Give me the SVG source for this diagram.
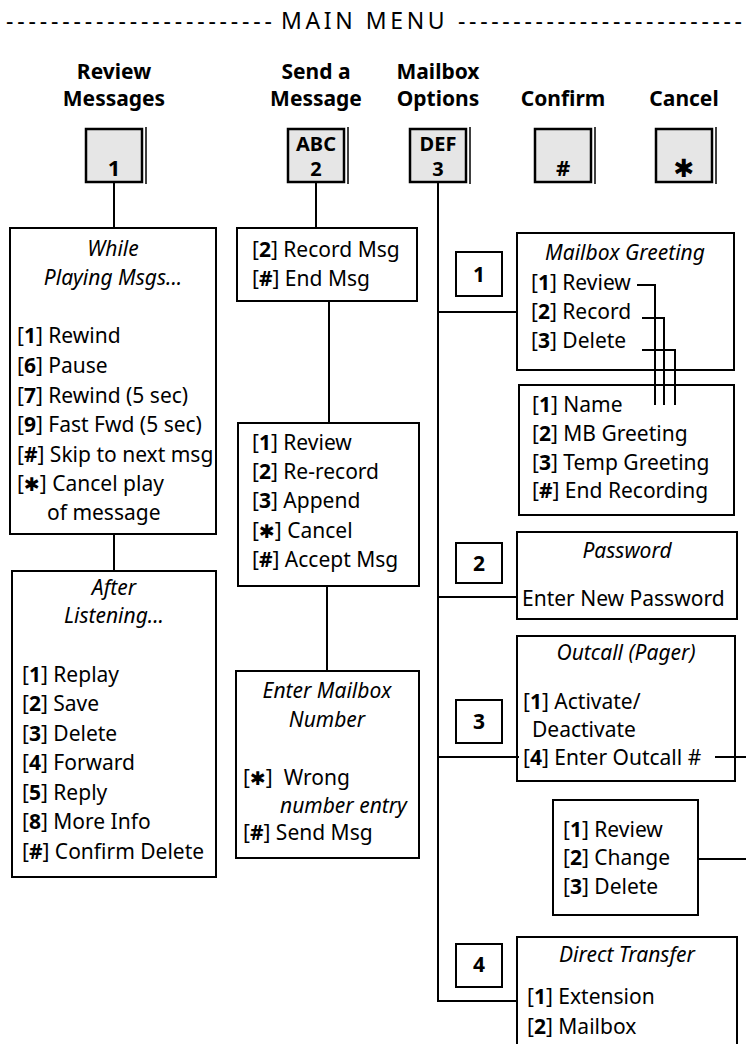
<svg xmlns="http://www.w3.org/2000/svg" width="746" height="1044" viewBox="0 0 746 1044">
<style>
text{font-family:"Noto Sans","Open Sans",sans-serif;font-size:21px;fill:#000}
.b{font-weight:bold}
.i{font-style:italic}
.c{text-anchor:middle}
.ast{font-family:"DejaVu Sans",sans-serif;font-size:19px;font-weight:bold}
.kt{font-size:20px}
.kn{font-size:22px}
.hd{font-size:23px}
.box{fill:#fff;stroke:#000;stroke-width:2}
.key{fill:#e6e6e6;stroke:#000;stroke-width:2.5}
.sh{stroke:#000;stroke-width:1.5}
.ln{stroke:#000;stroke-width:2;fill:none}
</style>
<rect width="746" height="1044" fill="#fff"/>

<g id="header">
<text class="hd" x="6" y="29" textLength="266" lengthAdjust="spacing">------------------------</text>
<text class="hd" x="281" y="29" letter-spacing="3.6">MAIN MENU</text>
<text class="hd" x="458" y="29" textLength="284" lengthAdjust="spacing">--------------------------</text>
</g>

<g id="labels">
<text class="c b" x="114" y="79">Review</text>
<text class="c b" x="114" y="106">Messages</text>
<text class="c b" x="316" y="79">Send a</text>
<text class="c b" x="316" y="106">Message</text>
<text class="c b" x="438" y="79">Mailbox</text>
<text class="c b" x="438" y="106">Options</text>
<text class="c b" x="563" y="106">Confirm</text>
<text class="c b" x="684" y="106">Cancel</text>
</g>

<g id="key1">
<rect class="key" x="86" y="129" width="56" height="53"/>
<line class="sh" x1="146" y1="127" x2="146" y2="184"/>
<text class="c b kn" x="114" y="176">1</text>
</g>
<g id="key2">
<rect class="key" x="288" y="129" width="56" height="53"/>
<line class="sh" x1="348" y1="127" x2="348" y2="184"/>
<text class="c b kt" x="316" y="151">ABC</text>
<text class="c b kt" x="316" y="176">2</text>
</g>
<g id="key3">
<rect class="key" x="410" y="129" width="56" height="53"/>
<line class="sh" x1="470" y1="127" x2="470" y2="184"/>
<text class="c b kt" x="438" y="151">DEF</text>
<text class="c b kt" x="438" y="176">3</text>
</g>
<g id="keyHash">
<rect class="key" x="535" y="129" width="56" height="53"/>
<line class="sh" x1="595" y1="127" x2="595" y2="184"/>
<text class="c b kn" x="563" y="176">#</text>
</g>
<g id="keyStar">
<rect class="key" x="656" y="129" width="56" height="53"/>
<line class="sh" x1="716" y1="127" x2="716" y2="184"/>
<text class="c ast" x="684" y="177" style="font-size:25px">✱</text>
</g>

<g id="whilePlaying">
<rect class="box" x="10" y="228" width="206" height="306"/>
<text class="c i" x="113" y="256">While</text>
<text class="c i" x="113" y="285">Playing Msgs...</text>
<text x="17" y="343">[<tspan class="b">1</tspan>] Rewind</text>
<text x="17" y="373">[<tspan class="b">6</tspan>] Pause</text>
<text x="17" y="403">[<tspan class="b">7</tspan>] Rewind (5 sec)</text>
<text x="17" y="432">[<tspan class="b">9</tspan>] Fast Fwd (5 sec)</text>
<text x="17" y="462">[<tspan class="b">#</tspan>] Skip to next msg</text>
<text x="17" y="491">[<tspan class="ast">✱</tspan>] Cancel play</text>
<text x="47" y="520">of message</text>
</g>

<g id="afterListening">
<rect class="box" x="12" y="571" width="204" height="306"/>
<text class="c i" x="114" y="595">After</text>
<text class="c i" x="114" y="623">Listening...</text>
<text x="22" y="682">[<tspan class="b">1</tspan>] Replay</text>
<text x="22" y="711">[<tspan class="b">2</tspan>] Save</text>
<text x="22" y="741">[<tspan class="b">3</tspan>] Delete</text>
<text x="22" y="770">[<tspan class="b">4</tspan>] Forward</text>
<text x="22" y="800">[<tspan class="b">5</tspan>] Reply</text>
<text x="22" y="829">[<tspan class="b">8</tspan>] More Info</text>
<text x="22" y="859">[<tspan class="b">#</tspan>] Confirm Delete</text>
</g>

<g id="recordMsg">
<rect class="box" x="237" y="228" width="180" height="73"/>
<text x="252" y="257">[<tspan class="b">2</tspan>] Record Msg</text>
<text x="252" y="286">[<tspan class="b">#</tspan>] End Msg</text>
</g>

<g id="reviewMsg">
<rect class="box" x="238" y="423" width="181" height="163"/>
<text x="252" y="450">[<tspan class="b">1</tspan>] Review</text>
<text x="252" y="479">[<tspan class="b">2</tspan>] Re-record</text>
<text x="252" y="508">[<tspan class="b">3</tspan>] Append</text>
<text x="252" y="538">[<tspan class="ast">✱</tspan>] Cancel</text>
<text x="252" y="567">[<tspan class="b">#</tspan>] Accept Msg</text>
</g>

<g id="enterMailbox">
<rect class="box" x="236" y="671" width="183" height="187"/>
<text class="c i" x="327" y="698">Enter Mailbox</text>
<text class="c i" x="327" y="727">Number</text>
<text x="243" y="785">[<tspan class="ast">✱</tspan>]&#160; Wrong</text>
<text class="i" x="280" y="813">number entry</text>
<text x="243" y="840">[<tspan class="b">#</tspan>] Send Msg</text>
</g>

<g id="opt1">
<rect class="box" x="456" y="252" width="46" height="44"/>
<text class="c b" x="479" y="282">1</text>
</g>
<g id="opt2">
<rect class="box" x="456" y="543" width="46" height="40"/>
<text class="c b" x="479" y="571">2</text>
</g>
<g id="opt3">
<rect class="box" x="456" y="700" width="46" height="43"/>
<text class="c b" x="479" y="729">3</text>
</g>
<g id="opt4">
<rect class="box" x="456" y="944" width="46" height="43"/>
<text class="c b" x="479" y="972">4</text>
</g>

<g id="mailboxGreeting">
<rect class="box" x="517" y="233" width="217" height="137"/>
<text class="c i" x="625" y="260">Mailbox Greeting</text>
<text x="531" y="290">[<tspan class="b">1</tspan>] Review</text>
<text x="531" y="319">[<tspan class="b">2</tspan>] Record</text>
<text x="531" y="348">[<tspan class="b">3</tspan>] Delete</text>
</g>

<g id="recording">
<rect class="box" x="519" y="385" width="215" height="130"/>
<text x="532" y="412">[<tspan class="b">1</tspan>] Name</text>
<text x="532" y="441">[<tspan class="b">2</tspan>] MB Greeting</text>
<text x="532" y="470">[<tspan class="b">3</tspan>] Temp Greeting</text>
<text x="532" y="498">[<tspan class="b">#</tspan>] End Recording</text>
</g>

<g id="password">
<rect class="box" x="517" y="532" width="220" height="87"/>
<text class="c i" x="627" y="558">Password</text>
<text x="522" y="606">Enter New Password</text>
</g>

<g id="outcall">
<rect class="box" x="517" y="636" width="218" height="145"/>
<text class="c i" x="626" y="660">Outcall (Pager)</text>
<text x="523" y="709">[<tspan class="b">1</tspan>] Activate/</text>
<text x="532" y="737">Deactivate</text>
<text x="523" y="765">[<tspan class="b">4</tspan>] Enter Outcall #</text>
</g>

<g id="outcallNumber">
<rect class="box" x="553" y="800" width="145" height="115"/>
<text x="563" y="837">[<tspan class="b">1</tspan>] Review</text>
<text x="563" y="865">[<tspan class="b">2</tspan>] Change</text>
<text x="563" y="894">[<tspan class="b">3</tspan>] Delete</text>
</g>

<g id="directTransfer">
<rect class="box" x="517" y="937" width="220" height="115"/>
<text class="c i" x="627" y="962">Direct Transfer</text>
<text x="527" y="1004">[<tspan class="b">1</tspan>] Extension</text>
<text x="527" y="1034">[<tspan class="b">2</tspan>] Mailbox</text>
</g>

<g id="connectors" class="ln">
<line x1="114" y1="182" x2="114" y2="228"/>
<line x1="316" y1="182" x2="316" y2="228"/>
<polyline points="438,182 438,1001 517,1001"/>
<line x1="438" y1="312" x2="517" y2="312"/>
<line x1="438" y1="597" x2="517" y2="597"/>
<line x1="438" y1="757" x2="519" y2="757"/>
<line x1="114" y1="534" x2="114" y2="571"/>
<line x1="329" y1="301" x2="329" y2="423"/>
<line x1="327" y1="586" x2="327" y2="671"/>
<polyline points="637,285 655,285 655,405"/>
<polyline points="642,318 664,318 664,405"/>
<polyline points="642,350 675,350 675,405"/>
<line x1="715" y1="757" x2="746" y2="757"/>
<line x1="698" y1="859" x2="746" y2="859"/>
</g>
</svg>
